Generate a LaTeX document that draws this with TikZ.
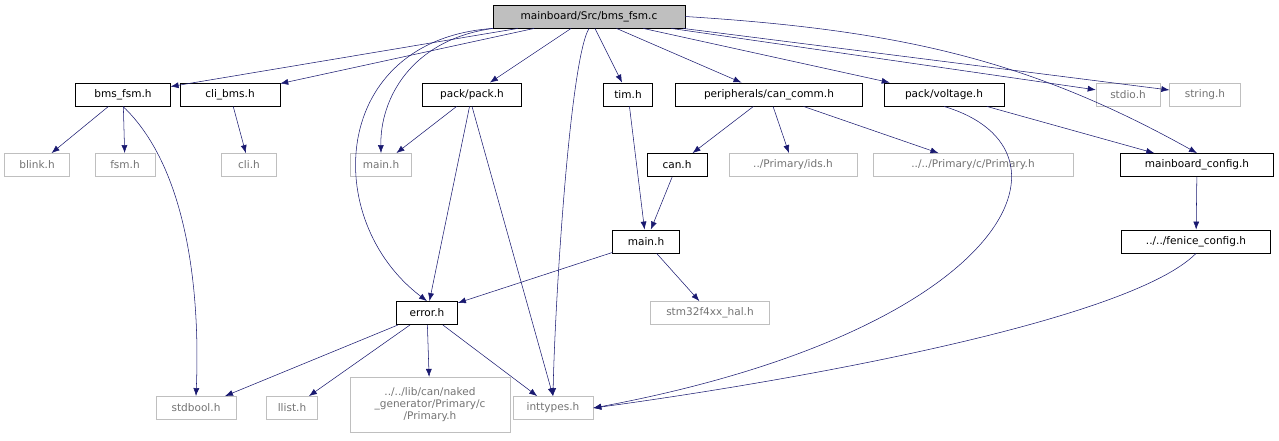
\documentclass[tikz,border=0pt]{standalone}
\usepackage{fontspec}
\setmainfont{DejaVu Sans}
\usetikzlibrary{arrows.meta}
\definecolor{edge}{HTML}{191970}
\definecolor{greyline}{HTML}{BFBFBF}

\begin{document}
\begin{tikzpicture}[x=0.75pt,y=-0.75pt,
	F/.style={rectangle,draw=black,thin,inner sep=0pt,minimum height=17.5pt,font=\fontsize{7.9}{9}\selectfont},
	G/.style={F,draw=greyline,text=black!55},
	R/.style={F,fill=greyline},
	dep/.style={-{Latex[length=6pt,width=4.5pt]},edge,thin}
	]
	\useasboundingbox (0,0) rectangle (1279,440);
	
	\node[R,minimum width=144pt] (root) at (589,16.5) {mainboard/Src/bms\_fsm.c};
	
	\node[F,minimum width=71pt] (bmsfsm) at (123,94.5) {bms\_fsm.h};
	\node[F,minimum width=75pt] (clibms) at (230,94.5) {cli\_bms.h};
	\node[F,minimum width=74pt] (pack) at (472,94.5) {pack/pack.h};
	\node[F,minimum width=37pt] (tim) at (628,94.5) {tim.h};
	\node[F,minimum width=140pt] (cancomm) at (769,94.5) {peripherals/can\_comm.h};
	\node[F,minimum width=90pt] (voltage) at (944,94.5) {pack/voltage.h};
	\node[G,minimum width=48pt] (stdio) at (1128,94.5) {stdio.h};
	\node[G,minimum width=53pt] (string) at (1205,94.5) {string.h};
	
	\node[G,minimum width=49pt] (blink) at (37,165) {blink.h};
	\node[G,minimum width=45pt] (fsm) at (125,165) {fsm.h};
	\node[G,minimum width=41pt] (cli) at (249,165) {cli.h};
	\node[G,minimum width=46pt] (mainA) at (381,165) {main.h};
	\node[F,minimum width=45pt] (can) at (677,165) {can.h};
	\node[G,minimum width=96pt] (ids) at (793,165) {../Primary/ids.h};
	\node[G,minimum width=150pt] (primary) at (973,165) {../../Primary/c/Primary.h};
	\node[F,minimum width=115pt] (mbconf) at (1197,165) {mainboard\_config.h};
	
	\node[F,minimum width=50pt] (mainB) at (646,241.5) {main.h};
	\node[F,minimum width=112pt] (fenice) at (1196,241.5) {../../fenice\_config.h};
	
	\node[F,minimum width=46pt] (error) at (427,313) {error.h};
	\node[G,minimum width=89pt] (stm) at (710,313) {stm32f4xx\_hal.h};
	
	\node[G,minimum width=60pt] (stdbool) at (196,408) {stdbool.h};
	\node[G,minimum width=38pt] (llist) at (292,408) {llist.h};
	\node[G,minimum width=120pt,minimum height=41pt,align=center] (naked) at (430,404.5) {../../lib/can/naked\\\_generator/Primary/c\\/Primary.h};
	\node[G,minimum width=60pt] (inttypes) at (553,408) {inttypes.h};
	
	% from the source file
	\draw[dep] (root) -- (bmsfsm);
	\draw[dep] (root) -- (clibms);
	\draw[dep] (root.south west) .. controls (330,40) and (320,220) .. (error.north);
	\draw[dep] (root.south west) .. controls (410,40) and (380,100) .. (mainA.north);
	\draw[dep] (root) -- (pack);
	\draw[dep] (root.south) .. controls (570,60) and (555,300) .. (inttypes.north);
	\draw[dep] (root) -- (tim);
	\draw[dep] (root) -- (cancomm);
	\draw[dep] (root) -- (voltage);
	\draw[dep] (root) -- (stdio);
	\draw[dep] (root) -- (string);
	\draw[dep] (root.east) .. controls (900,30) and (1030,60) .. (mbconf.north);
	
	\draw[dep] (bmsfsm) -- (blink);
	\draw[dep] (bmsfsm) -- (fsm);
	\draw[dep] (bmsfsm.south) .. controls (190,170) and (200,300) .. (stdbool.north);
	\draw[dep] (clibms) -- (cli);
	\draw[dep] (pack) -- (mainA);
	\draw[dep] (pack) -- (error);
	\draw[dep] (pack.south) -- (inttypes.north);
	\draw[dep] (tim) -- (mainB);
	\draw[dep] (cancomm) -- (can);
	\draw[dep] (cancomm) -- (ids);
	\draw[dep] (cancomm) -- (primary);
	\draw[dep] (voltage) -- (mbconf);
	\draw[dep] (voltage.south) .. controls (1090,150) and (1010,330) .. (inttypes.east);
	\draw[dep] (can) -- (mainB);
	\draw[dep] (mainB) -- (error);
	\draw[dep] (mainB) -- (stm);
	\draw[dep] (mbconf) -- (fenice);
	\draw[dep] (fenice.south) .. controls (1130,320) and (800,380) .. (inttypes.east);
	
	\draw[dep] (error) -- (stdbool);
	\draw[dep] (error) -- (llist);
	\draw[dep] (error) -- (naked);
	\draw[dep] (error) -- (inttypes);
\end{tikzpicture}
\end{document}
